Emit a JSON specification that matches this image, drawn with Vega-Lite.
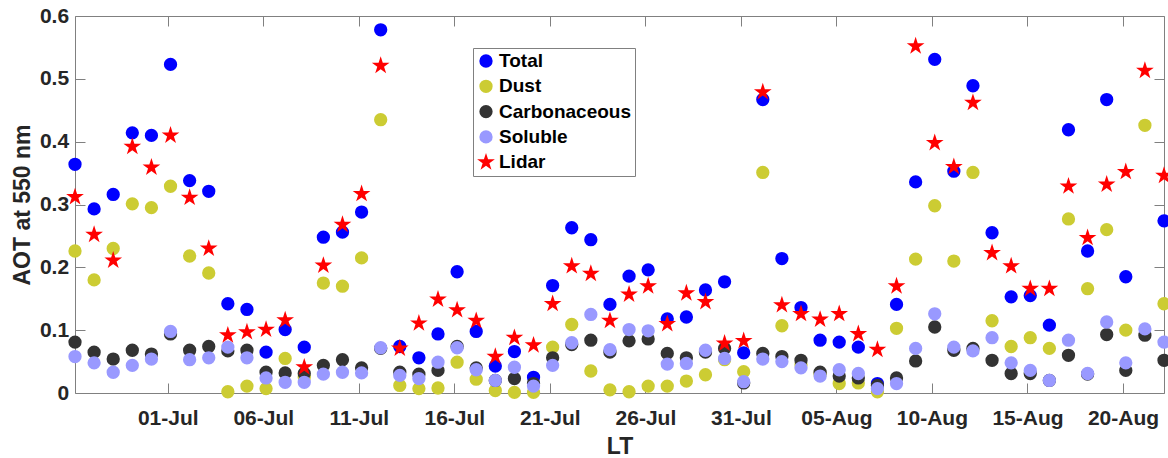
{
  "$schema": "https://vega.github.io/schema/vega-lite/v6.json",
  "width": 1089,
  "height": 377,
  "autosize": "none",
  "padding": {"left": 75, "top": 16, "right": 4, "bottom": 65},
  "background": "white",
  "config": {
    "font": "Liberation Sans",
    "view": {"stroke": "#808080", "strokeWidth": 1},
    "axis": {
      "grid": false,
      "domain": false,
      "labelFont": "Liberation Sans",
      "labelFontWeight": "bold",
      "labelFontSize": 21,
      "labelColor": "#262626",
      "titleFont": "Liberation Sans",
      "titleFontWeight": "bold",
      "titleFontSize": 23,
      "titleColor": "#262626",
      "tickColor": "#808080",
      "tickWidth": 1,
      "tickSize": 10,
      "offset": -10
    },
    "legend": {
      "labelFont": "Liberation Sans",
      "labelFontWeight": "bold",
      "labelFontSize": 19,
      "labelColor": "#000000",
      "symbolSize": 177
    }
  },
  "data": {
    "values": [
      {"d": "2016-06-26T03:30:00Z", "s": "Total", "v": 0.364},
      {"d": "2016-06-27T03:30:00Z", "s": "Total", "v": 0.293},
      {"d": "2016-06-28T03:30:00Z", "s": "Total", "v": 0.316},
      {"d": "2016-06-29T03:30:00Z", "s": "Total", "v": 0.414},
      {"d": "2016-06-30T03:30:00Z", "s": "Total", "v": 0.410},
      {"d": "2016-07-01T03:30:00Z", "s": "Total", "v": 0.523},
      {"d": "2016-07-02T03:30:00Z", "s": "Total", "v": 0.338},
      {"d": "2016-07-03T03:30:00Z", "s": "Total", "v": 0.321},
      {"d": "2016-07-04T03:30:00Z", "s": "Total", "v": 0.142},
      {"d": "2016-07-05T03:30:00Z", "s": "Total", "v": 0.133},
      {"d": "2016-07-06T03:30:00Z", "s": "Total", "v": 0.065},
      {"d": "2016-07-07T03:30:00Z", "s": "Total", "v": 0.101},
      {"d": "2016-07-08T03:30:00Z", "s": "Total", "v": 0.073},
      {"d": "2016-07-09T03:30:00Z", "s": "Total", "v": 0.248},
      {"d": "2016-07-10T03:30:00Z", "s": "Total", "v": 0.256},
      {"d": "2016-07-11T03:30:00Z", "s": "Total", "v": 0.288},
      {"d": "2016-07-12T03:30:00Z", "s": "Total", "v": 0.578},
      {"d": "2016-07-13T03:30:00Z", "s": "Total", "v": 0.074},
      {"d": "2016-07-14T03:30:00Z", "s": "Total", "v": 0.056},
      {"d": "2016-07-15T03:30:00Z", "s": "Total", "v": 0.094},
      {"d": "2016-07-16T03:30:00Z", "s": "Total", "v": 0.193},
      {"d": "2016-07-17T03:30:00Z", "s": "Total", "v": 0.098},
      {"d": "2016-07-18T03:30:00Z", "s": "Total", "v": 0.043},
      {"d": "2016-07-19T03:30:00Z", "s": "Total", "v": 0.066},
      {"d": "2016-07-20T03:30:00Z", "s": "Total", "v": 0.025},
      {"d": "2016-07-21T03:30:00Z", "s": "Total", "v": 0.171},
      {"d": "2016-07-22T03:30:00Z", "s": "Total", "v": 0.263},
      {"d": "2016-07-23T03:30:00Z", "s": "Total", "v": 0.244},
      {"d": "2016-07-24T03:30:00Z", "s": "Total", "v": 0.141},
      {"d": "2016-07-25T03:30:00Z", "s": "Total", "v": 0.186},
      {"d": "2016-07-26T03:30:00Z", "s": "Total", "v": 0.196},
      {"d": "2016-07-27T03:30:00Z", "s": "Total", "v": 0.118},
      {"d": "2016-07-28T03:30:00Z", "s": "Total", "v": 0.121},
      {"d": "2016-07-29T03:30:00Z", "s": "Total", "v": 0.164},
      {"d": "2016-07-30T03:30:00Z", "s": "Total", "v": 0.177},
      {"d": "2016-07-31T03:30:00Z", "s": "Total", "v": 0.064},
      {"d": "2016-08-01T03:30:00Z", "s": "Total", "v": 0.467},
      {"d": "2016-08-02T03:30:00Z", "s": "Total", "v": 0.214},
      {"d": "2016-08-03T03:30:00Z", "s": "Total", "v": 0.136},
      {"d": "2016-08-04T03:30:00Z", "s": "Total", "v": 0.084},
      {"d": "2016-08-05T03:30:00Z", "s": "Total", "v": 0.081},
      {"d": "2016-08-06T03:30:00Z", "s": "Total", "v": 0.073},
      {"d": "2016-08-07T03:30:00Z", "s": "Total", "v": 0.015},
      {"d": "2016-08-08T03:30:00Z", "s": "Total", "v": 0.141},
      {"d": "2016-08-09T03:30:00Z", "s": "Total", "v": 0.336},
      {"d": "2016-08-10T03:30:00Z", "s": "Total", "v": 0.531},
      {"d": "2016-08-11T03:30:00Z", "s": "Total", "v": 0.353},
      {"d": "2016-08-12T03:30:00Z", "s": "Total", "v": 0.489},
      {"d": "2016-08-13T03:30:00Z", "s": "Total", "v": 0.255},
      {"d": "2016-08-14T03:30:00Z", "s": "Total", "v": 0.153},
      {"d": "2016-08-15T03:30:00Z", "s": "Total", "v": 0.155},
      {"d": "2016-08-16T03:30:00Z", "s": "Total", "v": 0.108},
      {"d": "2016-08-17T03:30:00Z", "s": "Total", "v": 0.419},
      {"d": "2016-08-18T03:30:00Z", "s": "Total", "v": 0.226},
      {"d": "2016-08-19T03:30:00Z", "s": "Total", "v": 0.467},
      {"d": "2016-08-20T03:30:00Z", "s": "Total", "v": 0.185},
      {"d": "2016-08-22T03:30:00Z", "s": "Total", "v": 0.274},

      {"d": "2016-06-26T03:30:00Z", "s": "Dust", "v": 0.226},
      {"d": "2016-06-27T03:30:00Z", "s": "Dust", "v": 0.180},
      {"d": "2016-06-28T03:30:00Z", "s": "Dust", "v": 0.230},
      {"d": "2016-06-29T03:30:00Z", "s": "Dust", "v": 0.301},
      {"d": "2016-06-30T03:30:00Z", "s": "Dust", "v": 0.295},
      {"d": "2016-07-01T03:30:00Z", "s": "Dust", "v": 0.329},
      {"d": "2016-07-02T03:30:00Z", "s": "Dust", "v": 0.218},
      {"d": "2016-07-03T03:30:00Z", "s": "Dust", "v": 0.191},
      {"d": "2016-07-04T03:30:00Z", "s": "Dust", "v": 0.002},
      {"d": "2016-07-05T03:30:00Z", "s": "Dust", "v": 0.011},
      {"d": "2016-07-06T03:30:00Z", "s": "Dust", "v": 0.007},
      {"d": "2016-07-07T03:30:00Z", "s": "Dust", "v": 0.055},
      {"d": "2016-07-08T03:30:00Z", "s": "Dust", "v": 0.025},
      {"d": "2016-07-09T03:30:00Z", "s": "Dust", "v": 0.175},
      {"d": "2016-07-10T03:30:00Z", "s": "Dust", "v": 0.170},
      {"d": "2016-07-11T03:30:00Z", "s": "Dust", "v": 0.215},
      {"d": "2016-07-12T03:30:00Z", "s": "Dust", "v": 0.435},
      {"d": "2016-07-13T03:30:00Z", "s": "Dust", "v": 0.012},
      {"d": "2016-07-14T03:30:00Z", "s": "Dust", "v": 0.007},
      {"d": "2016-07-15T03:30:00Z", "s": "Dust", "v": 0.008},
      {"d": "2016-07-16T03:30:00Z", "s": "Dust", "v": 0.049},
      {"d": "2016-07-17T03:30:00Z", "s": "Dust", "v": 0.022},
      {"d": "2016-07-18T03:30:00Z", "s": "Dust", "v": 0.004},
      {"d": "2016-07-19T03:30:00Z", "s": "Dust", "v": 0.001},
      {"d": "2016-07-20T03:30:00Z", "s": "Dust", "v": 0.001},
      {"d": "2016-07-21T03:30:00Z", "s": "Dust", "v": 0.073},
      {"d": "2016-07-22T03:30:00Z", "s": "Dust", "v": 0.109},
      {"d": "2016-07-23T03:30:00Z", "s": "Dust", "v": 0.035},
      {"d": "2016-07-24T03:30:00Z", "s": "Dust", "v": 0.005},
      {"d": "2016-07-25T03:30:00Z", "s": "Dust", "v": 0.002},
      {"d": "2016-07-26T03:30:00Z", "s": "Dust", "v": 0.011},
      {"d": "2016-07-27T03:30:00Z", "s": "Dust", "v": 0.011},
      {"d": "2016-07-28T03:30:00Z", "s": "Dust", "v": 0.019},
      {"d": "2016-07-29T03:30:00Z", "s": "Dust", "v": 0.029},
      {"d": "2016-07-30T03:30:00Z", "s": "Dust", "v": 0.053},
      {"d": "2016-07-31T03:30:00Z", "s": "Dust", "v": 0.034},
      {"d": "2016-08-01T03:30:00Z", "s": "Dust", "v": 0.351},
      {"d": "2016-08-02T03:30:00Z", "s": "Dust", "v": 0.107},
      {"d": "2016-08-03T03:30:00Z", "s": "Dust", "v": 0.045},
      {"d": "2016-08-04T03:30:00Z", "s": "Dust", "v": 0.030},
      {"d": "2016-08-05T03:30:00Z", "s": "Dust", "v": 0.015},
      {"d": "2016-08-06T03:30:00Z", "s": "Dust", "v": 0.016},
      {"d": "2016-08-07T03:30:00Z", "s": "Dust", "v": 0.002},
      {"d": "2016-08-08T03:30:00Z", "s": "Dust", "v": 0.103},
      {"d": "2016-08-09T03:30:00Z", "s": "Dust", "v": 0.213},
      {"d": "2016-08-10T03:30:00Z", "s": "Dust", "v": 0.298},
      {"d": "2016-08-11T03:30:00Z", "s": "Dust", "v": 0.210},
      {"d": "2016-08-12T03:30:00Z", "s": "Dust", "v": 0.351},
      {"d": "2016-08-13T03:30:00Z", "s": "Dust", "v": 0.115},
      {"d": "2016-08-14T03:30:00Z", "s": "Dust", "v": 0.074},
      {"d": "2016-08-15T03:30:00Z", "s": "Dust", "v": 0.088},
      {"d": "2016-08-16T03:30:00Z", "s": "Dust", "v": 0.071},
      {"d": "2016-08-17T03:30:00Z", "s": "Dust", "v": 0.277},
      {"d": "2016-08-18T03:30:00Z", "s": "Dust", "v": 0.166},
      {"d": "2016-08-19T03:30:00Z", "s": "Dust", "v": 0.260},
      {"d": "2016-08-20T03:30:00Z", "s": "Dust", "v": 0.100},
      {"d": "2016-08-21T03:30:00Z", "s": "Dust", "v": 0.426},
      {"d": "2016-08-22T03:30:00Z", "s": "Dust", "v": 0.142},

      {"d": "2016-06-26T03:30:00Z", "s": "Carbonaceous", "v": 0.081},
      {"d": "2016-06-27T03:30:00Z", "s": "Carbonaceous", "v": 0.065},
      {"d": "2016-06-28T03:30:00Z", "s": "Carbonaceous", "v": 0.054},
      {"d": "2016-06-29T03:30:00Z", "s": "Carbonaceous", "v": 0.068},
      {"d": "2016-06-30T03:30:00Z", "s": "Carbonaceous", "v": 0.062},
      {"d": "2016-07-01T03:30:00Z", "s": "Carbonaceous", "v": 0.094},
      {"d": "2016-07-02T03:30:00Z", "s": "Carbonaceous", "v": 0.068},
      {"d": "2016-07-03T03:30:00Z", "s": "Carbonaceous", "v": 0.074},
      {"d": "2016-07-04T03:30:00Z", "s": "Carbonaceous", "v": 0.067},
      {"d": "2016-07-05T03:30:00Z", "s": "Carbonaceous", "v": 0.068},
      {"d": "2016-07-06T03:30:00Z", "s": "Carbonaceous", "v": 0.033},
      {"d": "2016-07-07T03:30:00Z", "s": "Carbonaceous", "v": 0.032},
      {"d": "2016-07-08T03:30:00Z", "s": "Carbonaceous", "v": 0.031},
      {"d": "2016-07-09T03:30:00Z", "s": "Carbonaceous", "v": 0.044},
      {"d": "2016-07-10T03:30:00Z", "s": "Carbonaceous", "v": 0.053},
      {"d": "2016-07-11T03:30:00Z", "s": "Carbonaceous", "v": 0.040},
      {"d": "2016-07-12T03:30:00Z", "s": "Carbonaceous", "v": 0.071},
      {"d": "2016-07-13T03:30:00Z", "s": "Carbonaceous", "v": 0.033},
      {"d": "2016-07-14T03:30:00Z", "s": "Carbonaceous", "v": 0.030},
      {"d": "2016-07-15T03:30:00Z", "s": "Carbonaceous", "v": 0.036},
      {"d": "2016-07-16T03:30:00Z", "s": "Carbonaceous", "v": 0.074},
      {"d": "2016-07-17T03:30:00Z", "s": "Carbonaceous", "v": 0.040},
      {"d": "2016-07-18T03:30:00Z", "s": "Carbonaceous", "v": 0.020},
      {"d": "2016-07-19T03:30:00Z", "s": "Carbonaceous", "v": 0.023},
      {"d": "2016-07-20T03:30:00Z", "s": "Carbonaceous", "v": 0.015},
      {"d": "2016-07-21T03:30:00Z", "s": "Carbonaceous", "v": 0.056},
      {"d": "2016-07-22T03:30:00Z", "s": "Carbonaceous", "v": 0.077},
      {"d": "2016-07-23T03:30:00Z", "s": "Carbonaceous", "v": 0.084},
      {"d": "2016-07-24T03:30:00Z", "s": "Carbonaceous", "v": 0.065},
      {"d": "2016-07-25T03:30:00Z", "s": "Carbonaceous", "v": 0.083},
      {"d": "2016-07-26T03:30:00Z", "s": "Carbonaceous", "v": 0.086},
      {"d": "2016-07-27T03:30:00Z", "s": "Carbonaceous", "v": 0.063},
      {"d": "2016-07-28T03:30:00Z", "s": "Carbonaceous", "v": 0.056},
      {"d": "2016-07-29T03:30:00Z", "s": "Carbonaceous", "v": 0.065},
      {"d": "2016-07-30T03:30:00Z", "s": "Carbonaceous", "v": 0.071},
      {"d": "2016-07-31T03:30:00Z", "s": "Carbonaceous", "v": 0.016},
      {"d": "2016-08-01T03:30:00Z", "s": "Carbonaceous", "v": 0.063},
      {"d": "2016-08-02T03:30:00Z", "s": "Carbonaceous", "v": 0.058},
      {"d": "2016-08-03T03:30:00Z", "s": "Carbonaceous", "v": 0.052},
      {"d": "2016-08-04T03:30:00Z", "s": "Carbonaceous", "v": 0.033},
      {"d": "2016-08-05T03:30:00Z", "s": "Carbonaceous", "v": 0.027},
      {"d": "2016-08-06T03:30:00Z", "s": "Carbonaceous", "v": 0.024},
      {"d": "2016-08-07T03:30:00Z", "s": "Carbonaceous", "v": 0.012},
      {"d": "2016-08-08T03:30:00Z", "s": "Carbonaceous", "v": 0.024},
      {"d": "2016-08-09T03:30:00Z", "s": "Carbonaceous", "v": 0.051},
      {"d": "2016-08-10T03:30:00Z", "s": "Carbonaceous", "v": 0.105},
      {"d": "2016-08-11T03:30:00Z", "s": "Carbonaceous", "v": 0.068},
      {"d": "2016-08-12T03:30:00Z", "s": "Carbonaceous", "v": 0.071},
      {"d": "2016-08-13T03:30:00Z", "s": "Carbonaceous", "v": 0.052},
      {"d": "2016-08-14T03:30:00Z", "s": "Carbonaceous", "v": 0.031},
      {"d": "2016-08-15T03:30:00Z", "s": "Carbonaceous", "v": 0.031},
      {"d": "2016-08-16T03:30:00Z", "s": "Carbonaceous", "v": 0.020},
      {"d": "2016-08-17T03:30:00Z", "s": "Carbonaceous", "v": 0.060},
      {"d": "2016-08-18T03:30:00Z", "s": "Carbonaceous", "v": 0.030},
      {"d": "2016-08-19T03:30:00Z", "s": "Carbonaceous", "v": 0.093},
      {"d": "2016-08-20T03:30:00Z", "s": "Carbonaceous", "v": 0.036},
      {"d": "2016-08-21T03:30:00Z", "s": "Carbonaceous", "v": 0.092},
      {"d": "2016-08-22T03:30:00Z", "s": "Carbonaceous", "v": 0.052},

      {"d": "2016-06-26T03:30:00Z", "s": "Soluble", "v": 0.058},
      {"d": "2016-06-27T03:30:00Z", "s": "Soluble", "v": 0.048},
      {"d": "2016-06-28T03:30:00Z", "s": "Soluble", "v": 0.033},
      {"d": "2016-06-29T03:30:00Z", "s": "Soluble", "v": 0.044},
      {"d": "2016-06-30T03:30:00Z", "s": "Soluble", "v": 0.054},
      {"d": "2016-07-01T03:30:00Z", "s": "Soluble", "v": 0.098},
      {"d": "2016-07-02T03:30:00Z", "s": "Soluble", "v": 0.053},
      {"d": "2016-07-03T03:30:00Z", "s": "Soluble", "v": 0.056},
      {"d": "2016-07-04T03:30:00Z", "s": "Soluble", "v": 0.073},
      {"d": "2016-07-05T03:30:00Z", "s": "Soluble", "v": 0.056},
      {"d": "2016-07-06T03:30:00Z", "s": "Soluble", "v": 0.024},
      {"d": "2016-07-07T03:30:00Z", "s": "Soluble", "v": 0.017},
      {"d": "2016-07-08T03:30:00Z", "s": "Soluble", "v": 0.017},
      {"d": "2016-07-09T03:30:00Z", "s": "Soluble", "v": 0.030},
      {"d": "2016-07-10T03:30:00Z", "s": "Soluble", "v": 0.033},
      {"d": "2016-07-11T03:30:00Z", "s": "Soluble", "v": 0.032},
      {"d": "2016-07-12T03:30:00Z", "s": "Soluble", "v": 0.072},
      {"d": "2016-07-13T03:30:00Z", "s": "Soluble", "v": 0.028},
      {"d": "2016-07-14T03:30:00Z", "s": "Soluble", "v": 0.023},
      {"d": "2016-07-15T03:30:00Z", "s": "Soluble", "v": 0.049},
      {"d": "2016-07-16T03:30:00Z", "s": "Soluble", "v": 0.072},
      {"d": "2016-07-17T03:30:00Z", "s": "Soluble", "v": 0.037},
      {"d": "2016-07-18T03:30:00Z", "s": "Soluble", "v": 0.020},
      {"d": "2016-07-19T03:30:00Z", "s": "Soluble", "v": 0.041},
      {"d": "2016-07-20T03:30:00Z", "s": "Soluble", "v": 0.011},
      {"d": "2016-07-21T03:30:00Z", "s": "Soluble", "v": 0.044},
      {"d": "2016-07-22T03:30:00Z", "s": "Soluble", "v": 0.080},
      {"d": "2016-07-23T03:30:00Z", "s": "Soluble", "v": 0.125},
      {"d": "2016-07-24T03:30:00Z", "s": "Soluble", "v": 0.069},
      {"d": "2016-07-25T03:30:00Z", "s": "Soluble", "v": 0.101},
      {"d": "2016-07-26T03:30:00Z", "s": "Soluble", "v": 0.099},
      {"d": "2016-07-27T03:30:00Z", "s": "Soluble", "v": 0.046},
      {"d": "2016-07-28T03:30:00Z", "s": "Soluble", "v": 0.047},
      {"d": "2016-07-29T03:30:00Z", "s": "Soluble", "v": 0.068},
      {"d": "2016-07-30T03:30:00Z", "s": "Soluble", "v": 0.055},
      {"d": "2016-07-31T03:30:00Z", "s": "Soluble", "v": 0.018},
      {"d": "2016-08-01T03:30:00Z", "s": "Soluble", "v": 0.054},
      {"d": "2016-08-02T03:30:00Z", "s": "Soluble", "v": 0.050},
      {"d": "2016-08-03T03:30:00Z", "s": "Soluble", "v": 0.040},
      {"d": "2016-08-04T03:30:00Z", "s": "Soluble", "v": 0.027},
      {"d": "2016-08-05T03:30:00Z", "s": "Soluble", "v": 0.037},
      {"d": "2016-08-06T03:30:00Z", "s": "Soluble", "v": 0.031},
      {"d": "2016-08-07T03:30:00Z", "s": "Soluble", "v": 0.007},
      {"d": "2016-08-08T03:30:00Z", "s": "Soluble", "v": 0.015},
      {"d": "2016-08-09T03:30:00Z", "s": "Soluble", "v": 0.071},
      {"d": "2016-08-10T03:30:00Z", "s": "Soluble", "v": 0.126},
      {"d": "2016-08-11T03:30:00Z", "s": "Soluble", "v": 0.073},
      {"d": "2016-08-12T03:30:00Z", "s": "Soluble", "v": 0.067},
      {"d": "2016-08-13T03:30:00Z", "s": "Soluble", "v": 0.088},
      {"d": "2016-08-14T03:30:00Z", "s": "Soluble", "v": 0.048},
      {"d": "2016-08-15T03:30:00Z", "s": "Soluble", "v": 0.036},
      {"d": "2016-08-16T03:30:00Z", "s": "Soluble", "v": 0.020},
      {"d": "2016-08-17T03:30:00Z", "s": "Soluble", "v": 0.084},
      {"d": "2016-08-18T03:30:00Z", "s": "Soluble", "v": 0.031},
      {"d": "2016-08-19T03:30:00Z", "s": "Soluble", "v": 0.113},
      {"d": "2016-08-20T03:30:00Z", "s": "Soluble", "v": 0.048},
      {"d": "2016-08-21T03:30:00Z", "s": "Soluble", "v": 0.102},
      {"d": "2016-08-22T03:30:00Z", "s": "Soluble", "v": 0.081},

      {"d": "2016-06-26T03:30:00Z", "s": "Lidar", "v": 0.312},
      {"d": "2016-06-27T03:30:00Z", "s": "Lidar", "v": 0.252},
      {"d": "2016-06-28T03:30:00Z", "s": "Lidar", "v": 0.211},
      {"d": "2016-06-29T03:30:00Z", "s": "Lidar", "v": 0.392},
      {"d": "2016-06-30T03:30:00Z", "s": "Lidar", "v": 0.359},
      {"d": "2016-07-01T03:30:00Z", "s": "Lidar", "v": 0.410},
      {"d": "2016-07-02T03:30:00Z", "s": "Lidar", "v": 0.311},
      {"d": "2016-07-03T03:30:00Z", "s": "Lidar", "v": 0.230},
      {"d": "2016-07-04T03:30:00Z", "s": "Lidar", "v": 0.092},
      {"d": "2016-07-05T03:30:00Z", "s": "Lidar", "v": 0.097},
      {"d": "2016-07-06T03:30:00Z", "s": "Lidar", "v": 0.101},
      {"d": "2016-07-07T03:30:00Z", "s": "Lidar", "v": 0.116},
      {"d": "2016-07-08T03:30:00Z", "s": "Lidar", "v": 0.041},
      {"d": "2016-07-09T03:30:00Z", "s": "Lidar", "v": 0.203},
      {"d": "2016-07-10T03:30:00Z", "s": "Lidar", "v": 0.268},
      {"d": "2016-07-11T03:30:00Z", "s": "Lidar", "v": 0.317},
      {"d": "2016-07-12T03:30:00Z", "s": "Lidar", "v": 0.521},
      {"d": "2016-07-13T03:30:00Z", "s": "Lidar", "v": 0.071},
      {"d": "2016-07-14T03:30:00Z", "s": "Lidar", "v": 0.111},
      {"d": "2016-07-15T03:30:00Z", "s": "Lidar", "v": 0.149},
      {"d": "2016-07-16T03:30:00Z", "s": "Lidar", "v": 0.132},
      {"d": "2016-07-17T03:30:00Z", "s": "Lidar", "v": 0.115},
      {"d": "2016-07-18T03:30:00Z", "s": "Lidar", "v": 0.058},
      {"d": "2016-07-19T03:30:00Z", "s": "Lidar", "v": 0.088},
      {"d": "2016-07-20T03:30:00Z", "s": "Lidar", "v": 0.076},
      {"d": "2016-07-21T03:30:00Z", "s": "Lidar", "v": 0.142},
      {"d": "2016-07-22T03:30:00Z", "s": "Lidar", "v": 0.202},
      {"d": "2016-07-23T03:30:00Z", "s": "Lidar", "v": 0.190},
      {"d": "2016-07-24T03:30:00Z", "s": "Lidar", "v": 0.115},
      {"d": "2016-07-25T03:30:00Z", "s": "Lidar", "v": 0.157},
      {"d": "2016-07-26T03:30:00Z", "s": "Lidar", "v": 0.170},
      {"d": "2016-07-27T03:30:00Z", "s": "Lidar", "v": 0.110},
      {"d": "2016-07-28T03:30:00Z", "s": "Lidar", "v": 0.159},
      {"d": "2016-07-29T03:30:00Z", "s": "Lidar", "v": 0.145},
      {"d": "2016-07-30T03:30:00Z", "s": "Lidar", "v": 0.079},
      {"d": "2016-07-31T03:30:00Z", "s": "Lidar", "v": 0.083},
      {"d": "2016-08-01T03:30:00Z", "s": "Lidar", "v": 0.479},
      {"d": "2016-08-02T03:30:00Z", "s": "Lidar", "v": 0.140},
      {"d": "2016-08-03T03:30:00Z", "s": "Lidar", "v": 0.126},
      {"d": "2016-08-04T03:30:00Z", "s": "Lidar", "v": 0.117},
      {"d": "2016-08-05T03:30:00Z", "s": "Lidar", "v": 0.126},
      {"d": "2016-08-06T03:30:00Z", "s": "Lidar", "v": 0.094},
      {"d": "2016-08-07T03:30:00Z", "s": "Lidar", "v": 0.069},
      {"d": "2016-08-08T03:30:00Z", "s": "Lidar", "v": 0.170},
      {"d": "2016-08-09T03:30:00Z", "s": "Lidar", "v": 0.552},
      {"d": "2016-08-10T03:30:00Z", "s": "Lidar", "v": 0.398},
      {"d": "2016-08-11T03:30:00Z", "s": "Lidar", "v": 0.360},
      {"d": "2016-08-12T03:30:00Z", "s": "Lidar", "v": 0.462},
      {"d": "2016-08-13T03:30:00Z", "s": "Lidar", "v": 0.223},
      {"d": "2016-08-14T03:30:00Z", "s": "Lidar", "v": 0.202},
      {"d": "2016-08-15T03:30:00Z", "s": "Lidar", "v": 0.166},
      {"d": "2016-08-16T03:30:00Z", "s": "Lidar", "v": 0.166},
      {"d": "2016-08-17T03:30:00Z", "s": "Lidar", "v": 0.329},
      {"d": "2016-08-18T03:30:00Z", "s": "Lidar", "v": 0.247},
      {"d": "2016-08-19T03:30:00Z", "s": "Lidar", "v": 0.332},
      {"d": "2016-08-20T03:30:00Z", "s": "Lidar", "v": 0.352},
      {"d": "2016-08-21T03:30:00Z", "s": "Lidar", "v": 0.513},
      {"d": "2016-08-22T03:30:00Z", "s": "Lidar", "v": 0.346}
    ]
  },
  "layer": [
    {
      "mark": {"type": "point", "filled": true, "opacity": 1, "strokeWidth": 0, "size": 177},
      "encoding": {
        "x": {
          "field": "d",
          "type": "temporal",
          "scale": {
            "type": "utc",
            "nice": false,
            "domain": [
              {"year": 2016, "month": 6, "date": 26, "hours": 3, "minutes": 30, "utc": true},
              {"year": 2016, "month": 8, "date": 22, "hours": 3, "minutes": 30, "utc": true}
            ]
          },
          "axis": {
            "orient": "bottom",
            "title": "LT",
            "format": "%d-%b",
            "labelPadding": 14,
            "labelFlush": false,
            "labelOverlap": false,
            "titleY": 70,
            "titleBaseline": "alphabetic",
            "values": [
              {"year": 2016, "month": 7, "date": 1, "utc": true},
              {"year": 2016, "month": 7, "date": 6, "utc": true},
              {"year": 2016, "month": 7, "date": 11, "utc": true},
              {"year": 2016, "month": 7, "date": 16, "utc": true},
              {"year": 2016, "month": 7, "date": 21, "utc": true},
              {"year": 2016, "month": 7, "date": 26, "utc": true},
              {"year": 2016, "month": 7, "date": 31, "utc": true},
              {"year": 2016, "month": 8, "date": 5, "utc": true},
              {"year": 2016, "month": 8, "date": 10, "utc": true},
              {"year": 2016, "month": 8, "date": 15, "utc": true},
              {"year": 2016, "month": 8, "date": 20, "utc": true}
            ]
          }
        },
        "y": {
          "field": "v",
          "type": "quantitative",
          "scale": {"domain": [0, 0.6], "nice": false, "zero": false},
          "axis": {
            "orient": "left",
            "title": "AOT at 550 nm",
            "values": [0, 0.1, 0.2, 0.3, 0.4, 0.5, 0.6],
            "format": "~g",
            "labelPadding": 6.4,
            "labelFlush": false,
            "titleX": -56,
            "titleY": 188.5,
            "titleAngle": -90,
            "titleAlign": "center",
            "titleBaseline": "alphabetic"
          }
        },
        "color": {
          "field": "s",
          "type": "nominal",
          "scale": {
            "domain": ["Total", "Dust", "Carbonaceous", "Soluble", "Lidar"],
            "range": ["#0000ff", "#cccc33", "#333333", "#9999ff", "#ff0000"]
          },
          "legend": {
            "title": null,
            "orient": "none",
            "legendX": 398,
            "legendY": 32,
            "padding": 3.5,
            "strokeColor": "#808080",
            "fillColor": "#ffffff",
            "rowPadding": 5.3,
            "labelOffset": 3.5,
            "symbolStrokeWidth": 0
          }
        },
        "shape": {
          "field": "s",
          "type": "nominal",
          "scale": {
            "domain": ["Total", "Dust", "Carbonaceous", "Soluble", "Lidar"],
            "range": ["circle", "circle", "circle", "circle", "M0,-1.4L0.3143,-0.4326L1.3315,-0.4326L0.5086,0.1652L0.8229,1.1326L0,0.5348L-0.8229,1.1326L-0.5086,0.1652L-1.3315,-0.4326L-0.3143,-0.4326Z"]
          }
        }
      }
    },
    {
      "mark": {"type": "point", "opacity": 0},
      "encoding": {
        "x": {
          "field": "d",
          "type": "temporal",
          "axis": {
            "orient": "top",
            "title": null,
            "labels": false,
            "values": [
              {"year": 2016, "month": 7, "date": 1, "utc": true},
              {"year": 2016, "month": 7, "date": 6, "utc": true},
              {"year": 2016, "month": 7, "date": 11, "utc": true},
              {"year": 2016, "month": 7, "date": 16, "utc": true},
              {"year": 2016, "month": 7, "date": 21, "utc": true},
              {"year": 2016, "month": 7, "date": 26, "utc": true},
              {"year": 2016, "month": 7, "date": 31, "utc": true},
              {"year": 2016, "month": 8, "date": 5, "utc": true},
              {"year": 2016, "month": 8, "date": 10, "utc": true},
              {"year": 2016, "month": 8, "date": 15, "utc": true},
              {"year": 2016, "month": 8, "date": 20, "utc": true}
            ]
          }
        },
        "y": {
          "field": "v",
          "type": "quantitative",
          "axis": {
            "orient": "right",
            "title": null,
            "labels": false,
            "values": [0, 0.1, 0.2, 0.3, 0.4, 0.5, 0.6]
          }
        }
      }
    }
  ],
  "resolve": {"axis": {"x": "independent", "y": "independent"}}
}
